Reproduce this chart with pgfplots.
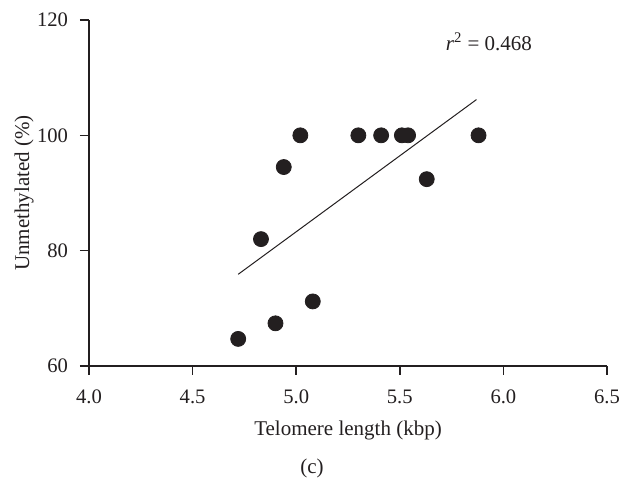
\documentclass[border=0pt]{standalone}
\usepackage{fontspec}
\setmainfont{Liberation Serif}
\usepackage{pgfplots}
\pgfplotsset{compat=1.18}
\definecolor{ink}{HTML}{231F20}

\begin{document}
\begin{tikzpicture}
\begin{axis}[
    name=ax,
    scale only axis,
    width=259pt,
    height=173pt,
    xmin=4, xmax=6.5,
    ymin=60, ymax=120,
    xtick={4,4.5,5,5.5,6,6.5},
    ytick={60,80,100,120},
    axis lines=left,
    axis line style={-, ink, line width=0.75pt},
    tick style={ink, line width=0.75pt},
    tick align=outside,
    major tick length=4.5pt,
    xticklabel style={/pgf/number format/.cd, fixed, fixed zerofill, precision=1, /tikz/.cd, yshift=-4pt},
    yticklabel style={xshift=-2.5pt},
    /pgf/number format/assume math mode=true,
    ticklabel style={font=\fontsize{10.3}{12}\selectfont, text=ink},
    xlabel={Telomere length (kbp)},
    ylabel={Unmethylated (\%)},
    label style={font=\fontsize{10.5}{12}\selectfont, text=ink},
    xlabel style={at={(axis description cs:0.5,-0.186)}, anchor=center},
    ylabel style={at={(axis description cs:-0.1255,0.5)}, anchor=center},
    clip=false,
]

% measurements
\addplot[only marks, mark=*, mark size=3.75pt, ink] coordinates {
    (4.72, 64.7)
    (4.90, 67.4)
    (5.08, 71.2)
    (4.83, 82.0)
    (4.94, 94.5)
    (5.02, 100)
    (5.30, 100)
    (5.41, 100)
    (5.51, 100)
    (5.54, 100)
    (5.63, 92.4)
    (5.88, 100)
};

% regression line
\addplot[ink, line width=0.5pt, no marks] coordinates {
    (4.72, 75.9)
    (5.87, 106.2)
};

\node[font=\fontsize{10.5}{12}\selectfont, text=ink] at (axis cs:5.93,116.2)
    {\textit{r}\textsuperscript{2} = 0.468};
\node[font=\fontsize{10.5}{12}\selectfont, text=ink] at (axis description cs:0.4305,-0.295) {(c)};

\coordinate (bl) at (axis description cs:0,0);
\coordinate (tr) at (axis description cs:1,1);
\end{axis}
\pgfresetboundingbox
\path[use as bounding box] ([xshift=-44.5pt, yshift=-57.5pt]bl) rectangle ([xshift=6.5pt, yshift=10pt]tr);
\end{tikzpicture}
\end{document}
